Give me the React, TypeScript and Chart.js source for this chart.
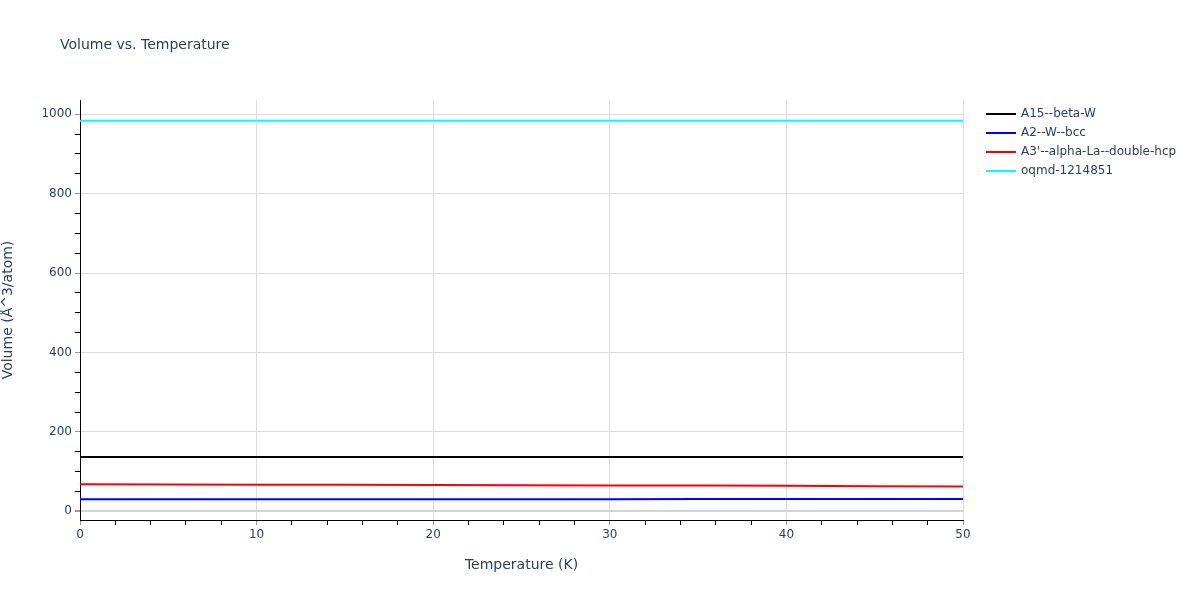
import React, { useEffect, useRef } from 'react';
import { Chart, registerables } from 'chart.js';

Chart.register(...registerables);

const temperatures = [0, 5, 10, 15, 20, 25, 30, 35, 40, 45, 50];
const a15BetaW = [136.5, 136.5, 136.5, 136.5, 136.5, 136.5, 136.5, 136.5, 136.5, 136.5, 136.5];
const a2WBcc = [30.5, 30.5, 30.5, 30.5, 30.5, 30.5, 30.5, 30.6, 30.6, 30.6, 30.7];
const a3AlphaLa = [67.8, 67.4, 67.0, 66.6, 66.2, 65.7, 65.2, 64.6, 64.0, 63.3, 62.6];
const oqmd1214851 = [984, 984, 984, 984, 984, 984, 984, 984, 984, 984, 984];

const seriesNames = ['A15--beta-W', 'A2--W--bcc', "A3'--alpha-La--double-hcp", 'oqmd-1214851'];
const seriesColors = ['#000000', '#0000ff', '#ff0000', '#00ffff'];

// tick positions: labelled majors plus minor marks
const xTickValues = [0, 2, 4, 6, 8, 10, 12, 14, 16, 18, 20, 22, 24, 26, 28, 30, 32, 34, 36, 38, 40, 42, 44, 46, 48, 50];
const xTickLabels = [0, 10, 20, 30, 40, 50];
const yTickValues = [0, 50, 100, 150, 200, 250, 300, 350, 400, 450, 500, 550, 600, 650, 700, 750, 800, 850, 900, 950, 1000];
const yTickLabels = [0, 200, 400, 600, 800, 1000];

const FONT = '"DejaVu Sans", Verdana, sans-serif';
const TEXT = '#2a3f5f';

// title and legend drawn in plotly-like positions
const overlayPlugin = {
  id: 'overlay',
  afterDraw(chart: Chart) {
    const ctx = chart.ctx;
    ctx.save();
    ctx.fillStyle = TEXT;
    ctx.font = `14px ${FONT}`;
    ctx.textBaseline = 'middle';
    ctx.textAlign = 'left';
    ctx.fillText('Volume vs. Temperature', 60, 45);

    ctx.font = `12px ${FONT}`;
    seriesNames.forEach((name, i) => {
      const y = 114 + i * 19;
      ctx.strokeStyle = seriesColors[i];
      ctx.lineWidth = 2;
      ctx.beginPath();
      ctx.moveTo(986, y);
      ctx.lineTo(1016, y);
      ctx.stroke();
      ctx.fillStyle = TEXT;
      ctx.fillText(name, 1021, y);
    });
    ctx.restore();
  },
};

const App: React.FC = () => {
  const chartRef = useRef<HTMLCanvasElement>(null);
  const chartInstance = useRef<Chart | null>(null);

  useEffect(() => {
    document.body.style.margin = '0';
    if (!chartRef.current) return;
    const ctx = chartRef.current.getContext('2d');
    if (!ctx) return;

    const allSeries = [a15BetaW, a2WBcc, a3AlphaLa, oqmd1214851];

    chartInstance.current = new Chart(ctx, {
      type: 'line',
      data: {
        datasets: allSeries.map((vals, i) => ({
          label: seriesNames[i],
          data: temperatures.map((t, j) => ({ x: t, y: vals[j] })),
          borderColor: seriesColors[i],
          backgroundColor: seriesColors[i],
          borderWidth: 2,
          pointRadius: 0,
          tension: 0,
        })),
      },
      options: {
        animation: false,
        responsive: false,
        layout: { padding: { top: 100, right: 237, bottom: 26, left: 0 } },
        plugins: {
          legend: { display: false },
          title: { display: false },
          tooltip: { enabled: false },
        },
        scales: {
          x: {
            type: 'linear',
            min: 0,
            max: 50,
            border: { color: '#000', width: 1 },
            afterBuildTicks: (scale: any) => {
              scale.ticks = xTickValues.map((v) => ({ value: v }));
            },
            grid: {
              color: (c: any) => (c.tick && xTickLabels.includes(c.tick.value) ? '#dddddd' : 'rgba(0,0,0,0)'),
              tickColor: (c: any) => (c.tick && xTickLabels.includes(c.tick.value) ? '#999' : '#000'),
              tickLength: 5,
            },
            ticks: {
              autoSkip: false,
              maxRotation: 0,
              color: TEXT,
              font: { family: FONT, size: 12 },
              padding: 3,
              callback: (v: any) => (xTickLabels.includes(Number(v)) ? String(v) : ''),
            },
            title: {
              display: true,
              text: 'Temperature (K)',
              color: TEXT,
              font: { family: FONT, size: 14 },
              padding: { top: 12, bottom: 0 },
            },
            afterFit: (scale: any) => {
              scale.height = 54;
            },
          },
          y: {
            type: 'linear',
            min: -22,
            max: 1036,
            border: { color: '#000', width: 1 },
            afterBuildTicks: (scale: any) => {
              scale.ticks = yTickValues.map((v) => ({ value: v }));
            },
            grid: {
              color: (c: any) => {
                if (!c.tick) return 'rgba(0,0,0,0)';
                const v = c.tick.value;
                if (v === 0) return '#d4d4d4';
                return yTickLabels.includes(v) ? '#dddddd' : 'rgba(0,0,0,0)';
              },
              lineWidth: (c: any) => (c.tick && c.tick.value === 0 ? 2 : 1),
              tickColor: (c: any) => (c.tick && yTickLabels.includes(c.tick.value) ? '#999' : '#000'),
              tickLength: 5,
            },
            ticks: {
              autoSkip: false,
              color: TEXT,
              font: { family: FONT, size: 12 },
              padding: 3,
              callback: (v: any) => (yTickLabels.includes(Number(v)) ? String(v) : ''),
            },
            title: {
              display: true,
              text: 'Volume (Å^3/atom)',
              color: TEXT,
              font: { family: FONT, size: 14 },
              padding: { top: 0, bottom: 0 },
            },
            afterFit: (scale: any) => {
              scale.width = 80;
            },
          },
        },
      },
      plugins: [overlayPlugin],
    });

    return () => {
      if (chartInstance.current) {
        chartInstance.current.destroy();
        chartInstance.current = null;
      }
    };
  }, []);

  return (
    <div style={{ width: 1200, height: 600, background: '#fff' }}>
      <canvas ref={chartRef} width={1200} height={600} />
    </div>
  );
};

export default App;
